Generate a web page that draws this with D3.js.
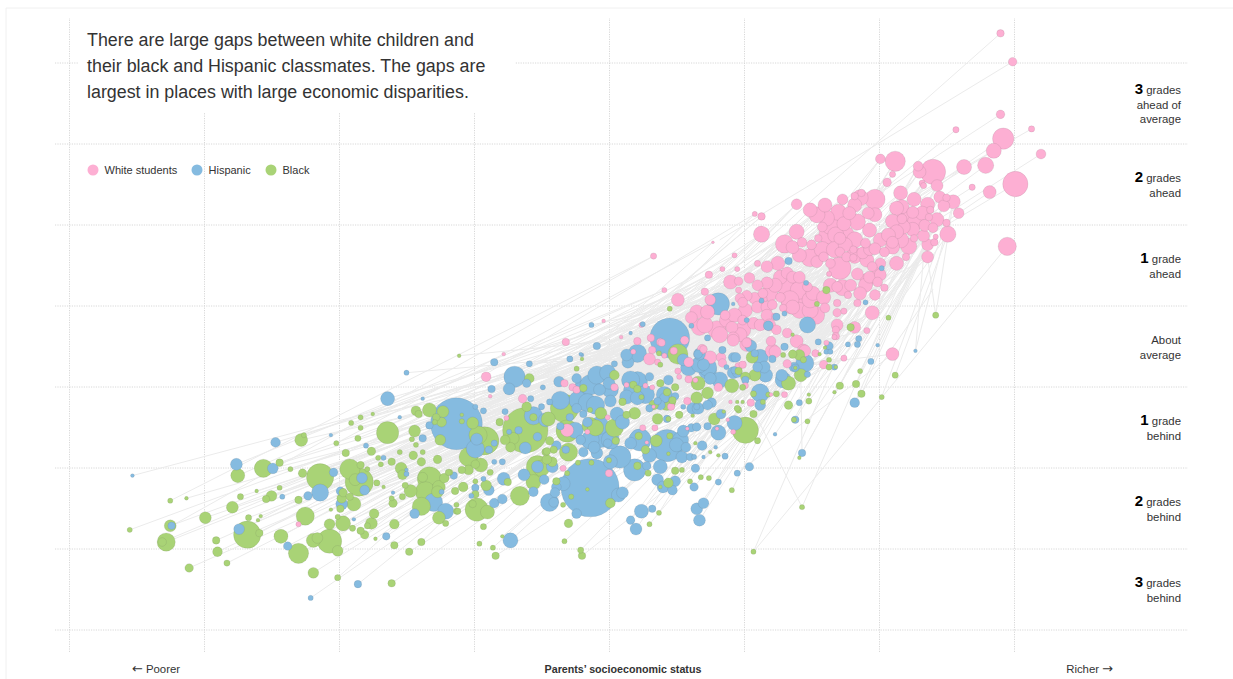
<!DOCTYPE html>
<html>
<head>
<meta charset="utf-8">
<title>Parents' socioeconomic status and grade level</title>
<script src="https://cdn.jsdelivr.net/npm/d3@7"></script>
<style>
  body { margin: 0; background: #fff; }
  text { font-family: "Liberation Sans", Arial, sans-serif; fill: #333; }
  .grid line { stroke: #d8d8d8; stroke-dasharray: 1.2,1.2; }
  .grid path { display: none; }
</style>
</head>
<body>
<div id="chart"></div>
<script>
// Each row: parents' SES, grade level vs average, district enrollment (arbitrary units)
const whiteStudents = [
[2.90,3.86,9],[2.99,3.51,12],[2.90,2.86,12],[2.57,2.67,6],[3.13,2.68,6],[2.92,2.56,90],[2.85,2.41,42],[2.79,2.23,49],
[3.20,2.37,16],[3.01,2.00,132],[2.82,1.90,30],[2.69,1.96,6],[2.63,2.21,42],[2.40,2.15,132],[2.30,2.15,30],[2.29,2.22,16],
[2.12,2.28,81],[2.01,2.31,16],[2.10,2.12,6],[2.06,2.02,12],[2.32,2.01,6],[2.33,1.98,6],[2.43,1.98,25],[2.16,1.89,36],
[2.26,1.81,36],[2.36,1.75,36],[2.45,1.84,25],[2.50,1.83,9],[2.55,1.78,36],[1.97,1.81,81],[1.87,1.89,9],[2.95,1.23,64],
[2.51,1.38,49],[2.59,1.64,20],[2.50,1.52,9],[2.48,1.73,25],[2.36,1.10,25],[2.13,1.02,36],[2.20,1.10,9],[2.22,1.23,49],
[2.36,1.25,25],[2.41,1.28,9],[2.42,1.35,4],[2.33,1.36,25],[2.38,1.68,9],[2.43,1.56,36],[2.40,1.46,16],[2.32,1.64,36],
[2.25,1.65,25],[2.25,1.44,36],[2.18,1.47,36],[2.17,1.72,36],[2.13,1.70,36],[2.10,1.54,36],[2.17,1.57,16],[2.13,1.41,36],
[2.10,1.28,25],[2.10,1.22,36],[2.26,1.33,9],[2.37,1.59,9],[1.86,1.83,49],[1.82,1.85,9],[1.73,1.81,20],[1.92,1.64,25],
[1.78,1.64,30],[1.70,1.65,49],[1.84,1.53,49],[1.74,1.51,36],[1.68,1.37,49],[1.62,1.37,64],[1.58,1.47,16],[1.61,1.58,49],
[1.54,1.62,49],[1.49,1.68,36],[1.39,1.75,20],[1.08,1.63,4],[1.13,1.60,9],[1.13,1.38,49],[1.39,1.41,42],[1.30,1.26,64],
[1.36,1.22,30],[1.43,1.28,16],[1.50,1.25,16],[1.55,1.33,9],[1.41,1.12,36],[1.49,1.09,64],[1.59,1.10,16],[1.54,1.04,25],
[1.64,1.02,16],[1.71,0.96,100],[1.84,0.89,25],[1.63,0.89,4],[1.71,1.33,25],[1.75,1.25,36],[1.82,1.31,49],[1.90,1.27,16],
[1.81,1.19,9],[1.88,1.15,25],[1.81,1.09,9],[1.71,1.16,16],[1.76,1.10,16],[1.93,1.19,25],[1.97,1.20,25],[2.04,1.16,16],
[1.91,1.06,36],[1.95,0.98,16],[2.01,1.02,20],[1.99,0.91,25],[1.93,0.85,25],[1.91,0.81,36],[1.99,0.79,16],[2.04,0.72,9],
[1.97,0.63,20],[1.86,0.65,30],[1.77,0.63,9],[1.73,0.72,49],[1.69,0.73,20],[1.25,1.02,36],[1.17,0.98,25],[1.10,1.02,6],
[1.27,0.85,36],[1.32,0.90,25],[1.36,0.85,25],[1.41,0.85,25],[1.36,0.73,64],[1.43,0.60,64],[1.47,0.73,16],[1.51,0.65,36],
[1.59,0.60,36],[1.60,0.47,16],[1.53,0.38,64],[1.41,0.44,49],[1.36,0.48,36],[1.27,0.60,16],[1.19,0.65,49],[1.17,0.78,25],
[1.10,0.75,20],[1.04,0.84,20],[0.90,0.79,36],[0.96,0.80,12],[0.74,0.88,9],[0.84,0.95,4],[0.95,0.95,4],[0.93,1.12,4],
[0.77,1.28,1],[0.33,1.11,6],[0.41,0.69,4],[0.51,0.57,30],[0.71,0.67,9],[0.75,0.57,20],[0.96,0.69,6],[1.02,0.62,20],
[0.97,0.59,16],[1.08,0.59,25],[1.14,0.65,16],[0.99,0.54,16],[1.10,0.48,25],[1.17,0.48,25],[1.21,0.51,16],[1.17,0.38,25],
[1.23,0.36,9],[1.29,0.47,9],[1.36,0.53,100],[1.49,0.44,49],[1.69,0.53,9],[1.69,0.41,12],[1.74,0.43,6],[1.84,0.53,9],
[1.95,0.41,36],[1.91,0.19,6],[2.10,-0.10,30],[1.69,0.26,25],[1.68,0.20,9],[1.82,0.23,25],[1.59,-0.23,12],[1.74,-0.15,6],
[1.67,0.11,4],[1.39,0.06,30],[1.21,-0.06,36],[1.20,0.06,16],[1.32,-0.22,12],[1.44,-0.05,25],[1.53,-0.09,9],[0.65,0.42,36],
[0.73,0.42,36],[0.61,0.35,25],[0.67,0.23,49],[0.80,0.20,64],[0.87,0.32,36],[0.91,0.23,25],[0.92,0.10,25],[0.99,0.20,49],
[1.07,0.28,25],[1.02,0.04,16],[0.99,0.32,16],[0.86,0.38,16],[1.32,0.16,16],[1.24,0.20,16],[0.21,0.06,9],[0.38,0.05,9],
[0.31,0.10,9],[0.56,0.07,12],[0.48,-0.06,9],[0.32,-0.05,9],[0.18,-0.07,4],[0.30,-0.16,25],[0.36,-0.20,6],[0.41,-0.12,4],
[0.59,-0.20,16],[0.51,-0.31,6],[0.59,-0.41,9],[0.52,-0.38,4],[0.64,-0.42,4],[0.81,-0.51,12],[0.58,-0.68,9],[0.32,-0.51,4],
[0.13,-0.48,4],[0.27,-0.49,4],[0.90,-0.69,2],[1.05,-0.70,9],[0.96,-0.25,9],[0.84,-0.21,12],[0.99,-0.23,9],[0.75,-0.14,30],
[0.70,-0.04,9],[1.30,-0.60,6],[1.20,-0.60,2],[1.61,0.04,4],[1.68,0.12,9],[1.45,-0.06,25],[1.23,-0.07,25],[1.01,-0.49,6],
[0.88,-0.91,2],[0.92,-1.06,4],[0.25,-1.01,6],[0.34,-1.01,6],[0.28,-1.19,2],[0.80,-1.02,2],[0.58,-1.02,2],[-0.01,-0.88,4],
[0.04,-0.51,9],[0.33,-0.75,2],[0.46,-0.75,9],[0.00,-1.57,9],[-0.31,-1.04,30],[-0.16,-1.06,4],[-0.34,-1.51,6],[-0.32,0.05,9],
[-0.04,0.31,2],[0.09,0.11,2],[-0.91,-0.38,16],[-0.78,-0.10,2],[-0.88,-0.62,2],[-0.64,-0.65,12],[-0.76,-0.89,4],[-2.30,-2.20,4],
[-0.33,-0.46,9],[-0.27,-0.51,9],[-0.24,-0.54,9],[0.24,0.26,4],[0.39,0.04,9],[0.69,-0.04,16],[0.83,-0.14,16],[0.92,0.07,25],
[1.02,0.02,36],
[1.64,1.49,64],[1.75,1.37,64],[1.82,1.12,49],[1.58,1.19,49],[1.67,1.19,49],[1.93,1.43,36],[2.01,1.31,36],[2.19,1.62,49],
[2.27,1.53,49],[2.16,1.31,49],[2.07,1.37,36],[1.30,0.75,64],[1.41,0.69,64],[1.34,0.57,64],[1.23,0.75,36],[1.49,0.57,49],
[1.12,0.57,36],[1.01,0.44,36],[0.93,0.38,36],[0.82,0.14,49],[0.71,0.26,49],[0.97,0.14,36],[1.12,0.26,25],[1.19,0.26,25],
[1.64,0.75,36],[1.79,0.75,25],[1.90,0.75,36],[2.01,0.88,25],[1.82,1.74,36],[1.97,1.62,36],[2.34,1.49,25],[1.60,1.74,36]
];

const hispanicStudents = [
[-3.53,-1.60,2],[-3.24,-2.22,9],[-2.74,-2.26,20],[-2.76,-1.46,25],[-2.47,-1.19,16],[-2.49,-1.51,20],[-2.42,-1.86,4],[-2.23,-1.85,12],
[-2.38,-2.47,12],[-2.14,-1.81,56],[-2.04,-1.56,12],[-2.06,-1.10,2],[-1.83,-1.63,20],[-1.81,-1.78,16],[-1.99,-1.79,12],[-1.98,-1.95,25],
[-1.89,-2.14,2],[-1.65,-2.35,9],[-1.86,-2.94,9],[-2.21,-3.11,4],[-1.64,-0.65,36],[-1.38,-0.65,2],[-1.55,-0.88,2],[-1.80,-1.23,4],
[-1.67,-1.38,4],[-1.38,-1.14,9],[-1.33,-0.98,9],[-1.13,-0.96,650],[-1.50,-1.58,4],[-1.50,-1.53,2],[-1.60,-1.81,2],[-1.44,-2.07,16],
[-1.30,-1.93,64],[-1.21,-2.04,49],[-1.15,-1.60,9],[-1.24,-1.80,4],[-1.50,-0.33,4],[-0.93,-0.80,6],[-0.99,-0.75,4],[-0.85,-0.20,9],
[-0.59,-0.22,6],[-0.70,-0.38,90],[-0.61,-0.46,12],[-0.74,-0.53,25],[-0.87,-0.53,9],[-0.49,-0.51,4],[-0.77,-0.81,6],[-0.58,-0.65,6],
[-0.50,-0.75,6],[-0.44,-0.69,6],[-0.56,-0.86,64],[-0.67,-1.04,9],[-0.53,-1.12,12],[-0.62,-1.26,25],[-0.74,-1.06,4],[-0.89,-1.28,9],
[-0.85,-1.20,6],[-0.98,-1.15,25],[-0.99,-1.27,64],[-0.79,-1.43,6],[-0.85,-1.43,4],[-0.78,-1.64,30],[-0.63,-1.59,25],[-0.48,-1.65,16],
[-0.42,-1.49,25],[-0.53,-1.49,25],[-0.56,-1.80,16],[-0.44,-1.93,64],[-0.39,-1.74,16],[-0.89,-1.78,20],[-0.99,-1.75,9],[-0.93,-1.64,4],
[-1.02,-1.85,4],[-0.85,-1.94,16],[-0.79,-1.89,16],[-0.73,-2.40,42],[-0.14,-1.75,841],[0.24,-2.04,36],[0.16,-2.15,12],[0.20,-2.26,25],
[0.32,-2.01,9],[0.65,-2.01,25],[0.70,-1.94,20],[0.67,-2.15,25],[0.63,-1.74,12],[0.81,-1.68,6],[0.64,-1.51,12],[0.95,-1.57,6],
[1.04,-1.49,12],[0.86,-1.36,6],[0.70,-1.37,2],[0.79,-1.25,2],[0.69,-1.23,16],[0.57,-1.25,16],[0.43,-1.23,225],[0.50,-1.22,36],
[0.19,-1.53,100],[0.08,-1.37,100],[0.23,-1.16,100],[0.16,-1.20,25],[0.28,-1.48,12],[0.38,-1.49,36],[0.36,-1.65,25],[0.40,-1.74,25],
[0.47,-1.78,16],[0.49,-1.67,20],[0.54,-1.37,25],[0.60,-1.37,9],[0.63,-1.37,4],[0.55,-1.05,25],[0.61,-1.01,12],[0.65,-1.00,12],
[0.73,-0.99,9],[0.81,-1.07,42],[0.93,-0.95,42],[0.83,-0.84,16],[0.76,-0.70,16],[0.62,-0.77,25],[0.55,-0.75,4],[0.65,-0.75,6],
[0.43,-0.90,9],[0.21,-0.44,81],[0.16,-0.54,36],[0.13,-0.63,36],[0.21,-0.64,36],[0.14,-0.20,25],[-0.09,-0.36,64],[-0.01,-0.33,49],
[-0.19,-0.54,81],[-0.23,-0.67,64],[-0.16,-0.70,64],[0.01,-0.68,25],[-0.07,-0.54,25],[0.00,-0.46,25],[0.04,-0.22,6],[-0.20,-0.11,2],
[-0.29,-0.16,6],[-0.09,0.00,9],[-0.37,-0.44,20],[-0.24,-0.40,16],[-0.13,0.26,4],[-0.21,-0.10,2],[0.30,-0.38,12],[0.44,-0.42,16],
[0.49,-0.62,9],[0.41,-0.64,16],[0.36,-0.68,9],[0.30,-0.77,9],[0.06,-0.84,36],[0.10,-0.94,36],[-0.01,-1.20,12],[-0.09,-1.32,25],
[-0.19,-1.31,16],[-0.11,-1.25,25],[-0.19,-0.84,9],[-0.24,-0.77,16],[-0.29,-0.88,9],[-0.36,-0.99,9],[-0.16,-0.94,16],[-0.07,-1.12,100],
[-0.14,-1.16,64],[-0.21,-1.16,16],[-0.32,-1.28,9],[-0.39,-1.23,16],[-0.34,-1.70,36],[-0.40,-1.81,16],[-0.41,-1.93,16],[-0.24,-2.07,16],
[0.10,-1.81,25],[0.07,-1.84,36],[0.45,0.10,361],[0.66,-0.10,12],[0.55,-0.17,25],[0.59,-0.27,49],[0.73,-0.30,64],[0.75,-0.40,25],
[0.70,-0.23,25],[0.92,-0.33,25],[0.93,-0.30,9],[1.01,-0.42,9],[0.81,0.52,100],[1.18,0.25,16],[1.47,0.26,49],[1.05,0.00,25],
[0.92,-0.14,16],[1.12,-0.14,49],[1.15,-0.26,25],[1.08,-0.09,9],[1.10,-0.26,16],[1.21,-0.16,9],[1.24,0.36,9],[1.13,0.56,4],
[1.46,0.78,4],[1.30,0.40,4],[0.92,0.52,2],[1.02,0.32,4],[0.61,0.25,4],[0.16,0.16,2],[0.25,0.27,4],[0.21,-0.09,64],
[0.13,-0.11,25],[0.73,0.10,6],[0.67,-0.10,25],[0.73,-0.26,64],[0.84,-0.05,9],[0.94,-0.14,16],[0.87,-0.26,4],[0.95,-0.33,16],
[1.29,-0.42,49],[1.28,-0.36,25],[1.30,-0.01,9],[1.38,-0.27,9],[1.45,-0.21,64],[1.55,0.05,6],[1.63,0.00,12],[1.61,-0.07,4],
[1.12,-0.58,64],[1.12,-0.73,20],[1.41,-0.70,6],[0.73,-0.73,16],[0.66,-0.77,25],[0.38,-0.73,16],[1.77,0.02,4],[1.85,0.09,6],
[1.84,0.02,6],[1.99,0.01,2],[2.27,-0.06,2],[1.94,-0.19,6],[1.67,-0.26,6],[1.64,-0.07,4],[1.82,-0.70,16],[1.38,-0.91,9],
[1.23,-1.09,2],[1.43,-1.32,9],[1.33,1.05,9],[2.02,0.96,4],[1.90,0.54,4],[1.37,-0.26,16],[1.47,-0.35,6],
[-0.14,-0.48,81],[-0.10,-0.73,64],[0.01,-0.54,49],[0.16,-0.42,64],[0.27,-0.60,64],[-0.07,-0.98,64],[0.01,-1.16,64],[-0.25,-1.04,49],
[0.41,-0.60,49],[0.82,-0.42,49],[0.67,-0.23,49],[1.16,-0.36,36],[0.30,-1.35,36],[0.53,-1.16,49],[0.01,-1.43,36],[-0.36,-0.67,64],[-0.47,-0.91,36]
];

const blackStudents = [
[-3.11,-2.74,12],[-2.83,-2.68,6],[-2.90,-2.54,16],[-2.91,-2.40,9],[-3.28,-2.42,64],[-3.31,-2.42,12],[-3.55,-2.27,4],[-3.25,-2.22,25],
[-3.25,-1.91,4],[-3.13,-1.88,2],[-2.99,-2.12,25],[-2.79,-1.99,25],[-2.73,-1.86,6],[-2.75,-1.60,36],[-2.56,-1.51,64],[-2.44,-1.44,9],
[-2.36,-1.52,4],[-2.27,-1.57,12],[-2.61,-1.79,2],[-2.44,-1.75,4],[-2.50,-1.85,20],[-2.54,-1.89,9],[-2.30,-1.90,9],[-2.67,-2.12,6],
[-2.58,-2.10,2],[-2.60,-2.15,2],[-2.68,-2.33,156],[-2.59,-2.31,9],[-2.43,-2.35,36],[-2.25,-2.10,64],[-2.30,-2.56,81],[-2.19,-2.80,20],
[-2.01,-2.86,6],[-1.61,-2.93,9],[-1.48,-2.54,9],[-1.39,-2.42,9],[-1.59,-2.46,9],[-2.07,-2.41,121],[-2.19,-2.40,36],[-2.16,-2.37,20],
[-2.01,-2.53,20],[-2.07,-2.20,20],[-1.97,-2.19,42],[-1.90,-2.25,6],[-1.76,-2.19,25],[-1.79,-2.22,6],[-1.84,-2.28,9],[-1.81,-2.33,12],
[-1.73,-2.38,2],[-1.59,-2.20,16],[-1.74,-2.07,16],[-1.99,-2.01,9],[-2.06,-2.02,2],[-2.01,-2.11,4],[-1.89,-1.95,36],[-1.98,-1.88,16],
[-1.97,-1.81,12],[-2.14,-1.62,156],[-1.92,-1.52,81],[-1.85,-1.68,169],[-1.88,-1.65,25],[-1.92,-1.86,9],[-1.72,-1.69,6],[-1.84,-1.47,9],
[-1.79,-1.52,4],[-1.76,-1.30,12],[-1.95,-1.32,9],[-2.28,-1.16,30],[-2.26,-1.10,4],[-2.02,-1.20,4],[-1.86,-1.14,6],[-1.84,-1.01,4],
[-1.91,-0.95,4],[-1.84,-0.88,4],[-1.75,-0.84,2],[-1.64,-1.07,100],[-1.44,-1.05,25],[-1.43,-0.80,16],[-1.41,-0.84,9],[-1.33,-0.79,36],
[-1.46,-1.15,4],[-1.43,-1.22,4],[-1.45,-1.35,12],[-1.55,-1.31,4],[-1.71,-1.38,4],[-1.69,-1.46,4],[-1.61,-1.43,9],[-1.54,-1.51,25],
[-1.53,-1.59,16],[-1.47,-1.79,30],[-1.51,-1.72,6],[-1.53,-1.86,6],[-1.60,-1.94,12],[-1.61,-1.88,4],[-1.67,-1.74,2],[-1.39,-1.43,12],
[-1.38,-1.31,4],[-1.27,-1.40,12],[-1.23,-0.81,25],[-1.24,-0.94,16],[-1.28,-0.88,9],[-1.29,-0.94,4],[-1.25,-1.16,20],[-1.33,-1.64,121],
[-1.38,-1.62,16],[-1.36,-1.80,81],[-1.26,-1.74,30],[-1.27,-1.80,25],[-1.39,-1.98,64],[-1.26,-2.12,30],[-1.21,-2.19,6],[-1.22,-1.63,16],
[-1.14,-1.79,9],[-1.13,-1.96,4],[-1.13,-2.04,6],[-1.18,-1.56,6],[-1.11,-0.12,2],[-1.09,-0.85,2],[-1.09,-0.93,4],[-1.01,-0.95,25],
[-0.97,-1.10,64],[-0.92,-1.17,169],[-1.04,-1.37,72],[-0.95,-1.47,36],[-0.99,-1.46,12],[-0.88,-1.56,6],[-1.04,-1.53,16],[-1.09,-1.53,9],
[-1.19,-1.56,6],[-1.08,-1.74,16],[-0.99,-1.67,4],[-0.91,-1.72,20],[-0.99,-1.83,9],[-0.66,-1.85,72],[-0.75,-1.68,9],[-0.81,-0.94,9],
[-0.62,-1.04,484],[-0.59,-0.40,16],[-0.61,-0.75,16],[-0.73,-1.25,16],[-0.71,-1.14,25],[-0.77,-1.16,16],[-0.44,-1.17,12],[-0.45,-0.90,36],
[-0.33,-0.77,169],[-0.56,-0.88,9],[-0.56,-1.68,42],[-0.42,-1.43,16],[-0.46,-1.40,16],[-0.53,-1.49,100],[-0.47,-1.31,9],[-0.41,-1.28,9],
[-0.98,-2.02,110],[-0.90,-2.05,36],[-1.01,-1.95,9],[-1.12,-2.04,6],[-0.96,-2.44,4],[-0.86,-2.49,4],[-0.84,-2.59,9],[-0.79,-2.35,2],
[-0.93,-2.23,6],[-0.33,-2.41,4],[-0.21,-2.52,6],[-0.20,-2.59,9],[-0.30,-2.19,12],[-0.34,-1.96,4],[-0.28,-1.86,4],[0.01,-1.94,16],
[-0.16,-1.77,2],[-0.39,-1.67,9],[-0.23,-1.44,4],[-0.13,-1.44,4],[-0.31,-1.57,4],[-0.30,-1.31,64],[-0.31,-1.05,100],[-0.46,-1.30,9],
[-0.50,-1.51,49],[-0.06,-0.83,25],[-0.14,-0.98,49],[-0.10,-1.01,49],[0.04,-1.01,64],[0.19,-0.83,25],[0.36,-0.90,20],[0.13,-0.85,9],
[0.04,-0.36,16],[0.10,-0.69,9],[-0.19,-0.52,9],[-0.14,-0.79,4],[-0.24,-0.28,4],[-0.20,-0.16,2],[0.05,-1.17,9],[0.22,-1.11,9],
[0.35,-1.17,25],[0.45,-1.11,6],[0.27,-1.28,12],[0.00,-1.41,4],[0.21,-1.48,9],[0.29,-1.57,6],[0.44,-1.69,16],[0.49,-1.54,9],
[0.38,-1.74,2],[0.44,-1.33,2],[0.54,-1.53,4],[0.60,-1.67,4],[0.68,-1.62,4],[0.74,-1.63,4],[0.91,-1.78,4],[0.75,-1.31,2],
[0.81,-1.35,2],[0.64,-1.20,2],[0.37,-2.06,4],[0.30,-2.20,4],[1.01,-1.04,144],[1.10,-1.17,6],[0.96,-0.79,6],[0.78,-0.90,25],
[0.85,-0.81,2],[0.52,-0.85,9],[0.62,-0.86,2],[0.44,-0.90,4],[0.47,-0.67,9],[0.43,-0.57,9],[0.49,-0.51,9],[0.38,-0.46,9],
[0.33,-0.73,16],[0.65,-0.64,25],[0.73,-0.58,25],[0.66,-0.46,36],[0.91,-0.49,36],[0.99,-0.51,6],[1.08,-0.36,25],[0.95,-0.69,2],
[0.99,-0.69,2],[1.07,-0.84,9],[0.51,-0.10,81],[0.18,-0.48,9],[0.21,-0.53,9],[0.24,-0.63,4],[0.45,0.46,4],[0.37,-0.09,4],
[0.38,-0.23,4],[1.06,-0.14,25],[0.96,-0.31,9],[1.01,-0.38,16],[0.43,-0.69,56],[1.29,-0.11,4],[1.36,-0.10,12],[1.41,-0.11,20],
[1.44,-0.17,6],[1.33,-0.46,36],[1.42,-0.36,30],[1.63,-0.17,4],[1.63,-0.26,6],[1.68,-0.26,2],[1.61,0.69,9],[1.54,0.52,4],
[1.36,0.14,2],[1.24,-0.59,6],[1.33,-0.73,12],[1.48,-0.60,2],[1.48,-0.68,6],[1.07,-0.59,6],[1.18,-0.60,4],[1.14,-0.69,4],
[0.95,-0.77,6],[1.79,0.23,9],[2.07,0.35,4],[2.42,0.38,6],[1.86,-0.31,4],[2.12,-0.36,6],[1.71,-0.49,9],[1.83,-0.47,9],
[1.87,-0.59,9],[2.02,-0.63,4],[1.67,-0.57,2],[1.37,-0.91,4],[1.47,-0.93,4],[1.41,-1.38,2],[1.43,-1.99,4],[1.07,-2.54,4],
[1.60,-0.02,2],[1.56,-0.10,2],[1.38,-0.27,2]
];

const outlierLinks = [
  [1.07,-2.54,2.95,1.23],[1.43,-1.99,1.10,-0.90],[2.42,0.38,2.36,1.10],[2.27,-0.06,2.33,1.10],
  [1.43,-1.32,1.42,-0.30],[1.82,-0.70,2.40,0.70],
  [2.90,3.86,0.67,0.57],[2.99,3.51,0.82,1.31],[2.90,2.86,1.10,0.90],[2.57,2.67,1.50,1.20],
  [3.13,2.68,2.10,1.70],[2.92,2.56,1.20,0.60],[2.85,2.41,1.00,0.50],[2.79,2.23,1.30,0.40],
  [3.20,2.37,2.10,1.20],[3.01,2.00,1.60,0.60],[2.82,1.90,1.40,0.30],[2.69,1.96,1.70,0.90],
  [2.63,2.21,1.50,0.80],[2.59,1.64,1.60,0.50]
];

const seriesNames = ["White students", "Hispanic", "Black"];
const seriesColors = ["#fdafd3", "#85bbe0", "#a9d376"];

const sesTicks = [-4, -3, -2, -1, 0, 1, 2, 3];
const gradeTicks = [3.5, 2.5, 1.5, 0.5, -0.5, -1.5, -2.5, -3.5];

const introLines = [
  "There are large gaps between white children and",
  "their black and Hispanic classmates. The gaps are",
  "largest in places with large economic disparities."
];

// [grade, bold number, rest of first line, other lines]
const gradeLabels = [
  [3, "3", " grades", ["ahead of", "average"]],
  [2, "2", " grades", ["ahead"]],
  [1, "1", " grade", ["ahead"]],
  [0, "", "About", ["average"]],
  [-1, "1", " grade", ["behind"]],
  [-2, "2", " grades", ["behind"]],
  [-3, "3", " grades", ["behind"]]
];

// Set dimensions
const width = 1233;
const height = 679;
const gridLeft = 55;
const gridRight = 1188;
const gridTop = 18;
const gridBottom = 652;

const svg = d3.select("#chart")
  .append("svg")
  .attr("width", width)
  .attr("height", height)
  .style("display", "block");

// scales: one SES unit is 135px, one grade is 81px
const xScale = d3.scaleLinear().domain([-4, 3]).range([69, 1014]);
const yScale = d3.scaleLinear().domain([0, 1]).range([346, 265]);
const rScale = d3.scalePow().exponent(0.45).domain([0, 900]).range([0, 30]);

// edge of the page
svg.append("path")
  .attr("d", `M6,${height}V8H${width}`)
  .attr("fill", "none")
  .attr("stroke", "#f0f0f0");

/*

  Grid

*/
svg.append("g")
  .attr("class", "grid")
  .attr("transform", `translate(0,${gridBottom})`)
  .call(d3.axisBottom(xScale).tickValues(sesTicks).tickSize(gridTop - gridBottom).tickFormat(""));

svg.append("g")
  .attr("class", "grid")
  .attr("transform", `translate(${gridLeft},0)`)
  .call(d3.axisRight(yScale).tickValues(gradeTicks).tickSize(gridRight - gridLeft).tickFormat(""));

// white box behind the intro text
svg.append("rect")
  .attr("x", 78)
  .attr("y", gridTop - 1)
  .attr("width", 437)
  .attr("height", 96)
  .attr("fill", "#fff");

/*

  Links between white students and their classmates

*/
// the richest whites only get the hand read links above
const richWhites = whiteStudents
  .filter(d => d[0] > 0.3 && d[0] < 2.56 && d[1] > -0.3)
  .sort((a, b) => a[0] - b[0]);

const minorityStudents = hispanicStudents.concat(blackStudents)
  .sort((a, b) => a[0] - b[0]);

const links = minorityStudents.map((d, i) => {
  const w = richWhites[Math.floor(i / minorityStudents.length * richWhites.length)];
  return [d[0], d[1], w[0], w[1]];
}).concat(outlierLinks);

svg.append("g")
  .selectAll("line")
  .data(links)
  .enter()
  .append("line")
    .attr("x1", d => xScale(d[0]))
    .attr("y1", d => yScale(d[1]))
    .attr("x2", d => xScale(d[2]))
    .attr("y2", d => yScale(d[3]))
    .attr("stroke", "#ebebeb")
    .attr("stroke-width", 1);

/*

  Bubbles, big ones first so small ones stay on top

*/
const allPoints = [whiteStudents, hispanicStudents, blackStudents]
  .flatMap((rows, s) => rows.map(d => ({ses: d[0], grade: d[1], size: d[2], series: s})))
  .sort((a, b) => b.size - a.size);

svg.append("g")
  .selectAll("circle")
  .data(allPoints)
  .enter()
  .append("circle")
    .attr("cx", d => xScale(d.ses))
    .attr("cy", d => yScale(d.grade))
    .attr("r", d => rScale(d.size))
    .attr("fill", d => seriesColors[d.series])
    .attr("stroke", "rgba(80,80,80,0.14)")
    .attr("stroke-width", 0.8);

/*

  Text

*/
svg.append("g")
  .selectAll("text")
  .data(introLines)
  .enter()
  .append("text")
    .attr("x", 87)
    .attr("y", (d, i) => 46 + i * 26)
    .attr("font-size", 17.85)
    .text(d => d);

// legend
const legendX = [93, 197, 271];
const legend = svg.append("g")
  .selectAll("g")
  .data(seriesNames)
  .enter()
  .append("g")
    .attr("transform", (d, i) => `translate(${legendX[i]},170)`);

legend.append("circle")
  .attr("r", 5.5)
  .attr("fill", (d, i) => seriesColors[i]);

legend.append("text")
  .attr("x", 11.5)
  .attr("y", 4)
  .attr("font-size", 11)
  .text(d => d);

// right hand labels
const lineGap = 14.5;
const labelX = 1181;
gradeLabels.forEach(row => {
  const lines = row[3].length + 1;
  const top = yScale(row[0]) - (lines - 1) * lineGap / 2 + 5.5;
  const first = svg.append("text")
    .attr("x", labelX)
    .attr("y", top)
    .attr("text-anchor", "end")
    .attr("font-size", 11.4);
  first.append("tspan")
    .attr("font-weight", "bold")
    .attr("font-size", 15)
    .style("fill", "#000")
    .text(row[1]);
  first.append("tspan").text(row[2]);
  row[3].forEach((t, i) => {
    svg.append("text")
      .attr("x", labelX)
      .attr("y", top + (i + 1) * lineGap)
      .attr("text-anchor", "end")
      .attr("font-size", 11.4)
      .text(t);
  });
});

// bottom labels
const poorer = svg.append("text").attr("x", 132).attr("y", 673).attr("font-size", 11.4);
poorer.append("tspan").style("font-family", "DejaVu Sans").attr("font-size", 13).text("\u2190");
poorer.append("tspan").attr("dx", 3).text("Poorer");

svg.append("text").attr("x", 623).attr("y", 673).attr("font-size", 10.7)
  .attr("font-weight", "bold").attr("text-anchor", "middle").text("Parents\u2019 socioeconomic status");

const richer = svg.append("text").attr("x", 1113).attr("y", 673).attr("font-size", 11.4)
  .attr("text-anchor", "end");
richer.append("tspan").text("Richer");
richer.append("tspan").attr("dx", 3).style("font-family", "DejaVu Sans").attr("font-size", 13).text("\u2192");
</script>
</body>
</html>
